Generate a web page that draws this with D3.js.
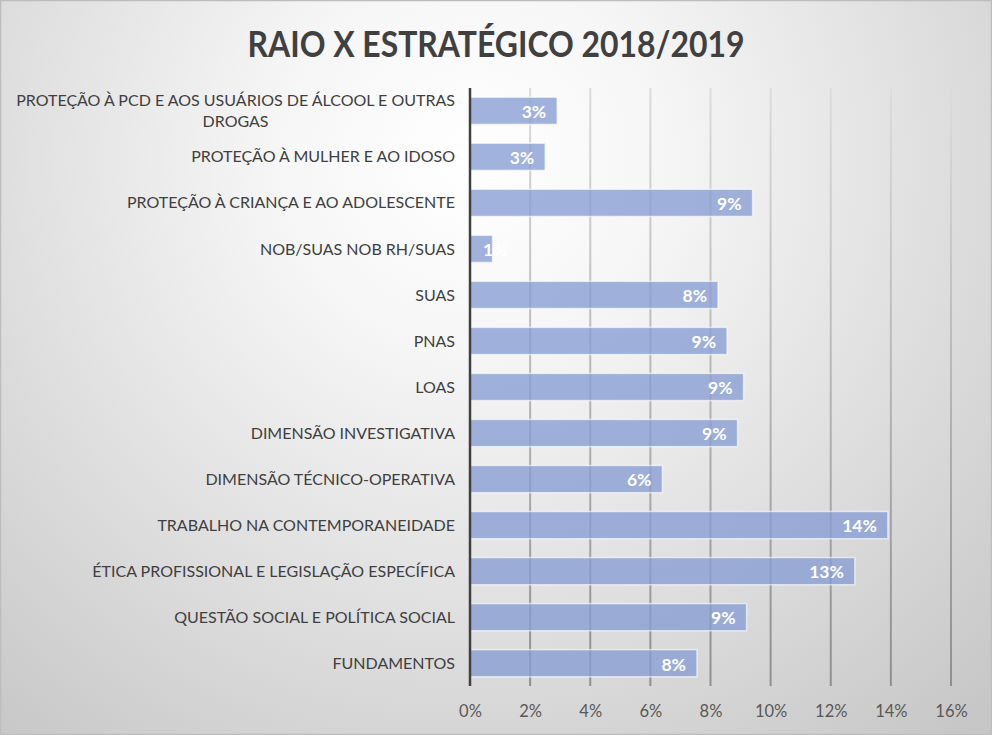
<!DOCTYPE html>
<html><head><meta charset="utf-8">
<script src="https://cdn.jsdelivr.net/npm/d3@7/dist/d3.min.js"></script>
<style>html,body{margin:0;padding:0;background:#fff}svg{display:block}</style>
</head><body>
<script>
const title = "RAIO X ESTRATÉGICO 2018/2019";
const categories = [
  "PROTEÇÃO À PCD E AOS USUÁRIOS DE ÁLCOOL E OUTRAS DROGAS",
  "PROTEÇÃO À MULHER E AO IDOSO",
  "PROTEÇÃO À CRIANÇA E AO ADOLESCENTE",
  "NOB/SUAS NOB RH/SUAS",
  "SUAS",
  "PNAS",
  "LOAS",
  "DIMENSÃO INVESTIGATIVA",
  "DIMENSÃO TÉCNICO-OPERATIVA",
  "TRABALHO NA CONTEMPORANEIDADE",
  "ÉTICA PROFISSIONAL E LEGISLAÇÃO ESPECÍFICA",
  "QUESTÃO SOCIAL E POLÍTICA SOCIAL",
  "FUNDAMENTOS"
];
const values = [0.029, 0.025, 0.094, 0.0075, 0.0825, 0.0855, 0.091, 0.089, 0.064, 0.139, 0.128, 0.092, 0.0755];
const xTicks = [0, 0.02, 0.04, 0.06, 0.08, 0.10, 0.12, 0.14, 0.16];

const W = 992, H = 735;
const margin = {left: 470, right: 41, top: 88, bottom: 50};
const FONT = "Lato, 'Open Sans', sans-serif";

const svg = d3.select("body").append("svg").attr("width", W).attr("height", H);
const defs = svg.append("defs");
const bg = defs.append("radialGradient").attr("id", "bg")
  .attr("gradientUnits", "userSpaceOnUse")
  .attr("cx", 470).attr("cy", 160).attr("r", 760);
bg.append("stop").attr("offset", "0").attr("stop-color", "#ffffff");
bg.append("stop").attr("offset", "0.25").attr("stop-color", "#f6f6f6");
bg.append("stop").attr("offset", "1").attr("stop-color", "#c6c6c6");
const gg = defs.append("linearGradient").attr("id", "grid")
  .attr("gradientUnits", "userSpaceOnUse").attr("x1", 0).attr("y1", 88).attr("x2", 0).attr("y2", 686);
gg.append("stop").attr("offset", "0").attr("stop-color", "#dcdcdc");
gg.append("stop").attr("offset", "1").attr("stop-color", "#8f8f8f");

svg.append("rect").attr("width", W).attr("height", H).attr("fill", "url(#bg)");
svg.append("rect").attr("x", 0.5).attr("y", 0.5).attr("width", W - 1).attr("height", H - 1)
  .attr("fill", "none").attr("stroke", "#bdbdbd").attr("stroke-width", 1.5);

const x = d3.scaleLinear().domain([0, 0.16]).range([margin.left, W - margin.right]);
const y = d3.scaleBand().domain(categories).range([margin.top, H - margin.bottom + 1]).paddingInner(0.41).paddingOuter(0.2);

// title
const t = svg.append("text").attr("x", 496).attr("y", 57).attr("text-anchor", "middle")
  .attr("font-family", FONT).attr("font-weight", 700).attr("font-size", 36)
  .attr("fill", "#404040").text(title);
t.attr("textLength", 497).attr("lengthAdjust", "spacingAndGlyphs");

// gridlines
svg.append("g").selectAll("line").data(xTicks.slice(1)).join("line")
  .attr("x1", d => x(d)).attr("x2", d => x(d))
  .attr("y1", margin.top).attr("y2", 686)
  .attr("stroke", "url(#grid)").attr("stroke-width", 2);

// bars
svg.append("g").selectAll("rect").data(values).join("rect")
  .attr("x", x(0)).attr("y", (d, i) => y(categories[i]))
  .attr("width", d => x(d) - x(0)).attr("height", y.bandwidth())
  .attr("fill", "rgb(135,157,212)").attr("fill-opacity", 0.78)
  .attr("stroke", "rgba(255,255,255,0.6)").attr("stroke-width", 1.5);

// axis line
svg.append("line").attr("x1", x(0)).attr("x2", x(0)).attr("y1", margin.top).attr("y2", 686)
  .attr("stroke", "#404040").attr("stroke-width", 2.5);

// x axis tick labels
const xAxis = d3.axisBottom(x).tickValues(xTicks).tickFormat(d3.format(".0%")).tickSize(0).tickPadding(0);
const gx = svg.append("g").attr("transform", "translate(0,705)").call(xAxis);
gx.select(".domain").remove();
gx.selectAll("text").attr("font-family", FONT).attr("font-size", 16.5).attr("fill", "#595959");

// category labels
const yAxis = d3.axisLeft(y).tickSize(0).tickPadding(0).tickFormat("");
const gy = svg.append("g").attr("transform", `translate(${margin.left - 15},0)`).call(yAxis);
gy.select(".domain").remove();
const wrapLines = {0: ["PROTEÇÃO À PCD E AOS USUÁRIOS DE ÁLCOOL E OUTRAS", "DROGAS"]};
gy.selectAll(".tick").each(function(d, i) {
  const g = d3.select(this);
  const lines = wrapLines[i] || [d];
  const tx = g.append("text").attr("font-family", FONT).attr("font-size", 16).attr("fill", "#404040")
    .attr("text-anchor", "end").attr("dy", "0.35em");
  if (lines.length === 1) {
    tx.text(lines[0]);
  } else {
    tx.text(lines[0]).attr("y", -10);
    const w0 = tx.node().getComputedTextLength();
    g.append("text").attr("font-family", FONT).attr("font-size", 16).attr("fill", "#404040")
      .attr("text-anchor", "middle").attr("dy", "0.35em").attr("x", -w0 / 2).attr("y", 11).text(lines[1]);
  }
});

// value labels
svg.append("g").selectAll("text").data(values).join("text")
  .attr("font-family", FONT).attr("font-weight", 700).attr("font-size", 17.5).attr("fill", "#ffffff")
  .attr("text-anchor", "end").attr("dy", "0.36em")
  .attr("y", (d, i) => y(categories[i]) + y.bandwidth() / 2 + 1)
  .text(d => d3.format(".0%")(d))
  .each(function(d) {
    const w = this.getComputedTextLength();
    d3.select(this).attr("x", Math.max(x(d) - 11, x(0) + 13 + w));
  });
</script>
</body></html>
